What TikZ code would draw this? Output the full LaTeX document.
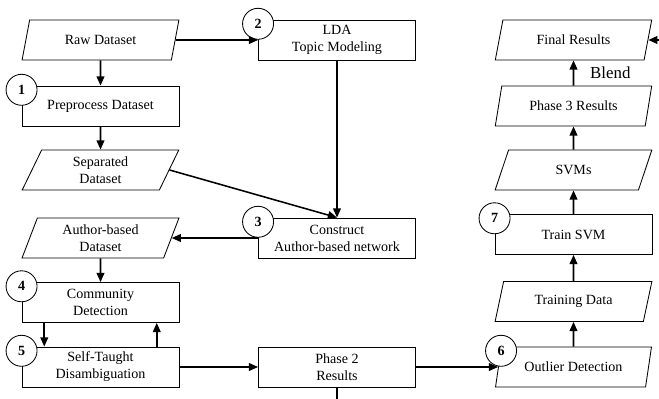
\documentclass[tikz,border=0pt]{standalone}
\usepackage{fontspec}
\setmainfont{Liberation Serif}
\usetikzlibrary{shapes.geometric,arrows.meta}

\begin{document}
\begin{tikzpicture}[x=0.025cm,y=-0.025cm,
		procbox/.style={draw,line width=0.6pt,minimum width=3.925cm,minimum height=1cm,align=center,inner sep=1pt},
		databox/.style={draw,line width=0.6pt,trapezium,trapezium left angle=72,trapezium right angle=108,trapezium stretches=true,minimum width=3.925cm,minimum height=1cm,align=center,inner sep=1pt},
		stepnum/.style={draw,circle,fill=white,line width=0.6pt,minimum size=0.775cm,inner sep=0pt,font=\bfseries},
		flow/.style={line width=1.1pt,-{Triangle[length=6.5pt,width=5.5pt]}}]
			\useasboundingbox (0,0) rectangle (659,399);
			% left column
			\node[databox] (RD) at (100.5,40) {Raw Dataset};
			\node[procbox] (PD) at (100.5,106) {Preprocess Dataset};
			\node[databox] (SD) at (100.5,170) {Separated\\Dataset};
			\node[databox] (AD) at (100.5,238) {Author-based\\Dataset};
			\node[procbox] (CD) at (100.5,302.5) {Community\\Detection};
			\node[procbox] (ST) at (100.5,367) {Self-Taught\\Disambiguation};
			% middle column
			\node[procbox] (LD) at (337,40) {LDA\\Topic Modeling};
			\node[procbox] (CA) at (337,238) {Construct\\Author-based network};
			\node[procbox] (PR) at (337,367) {Phase 2\\Results};
			% right column
			\node[databox] (FR) at (573.5,40) {Final Results};
			\node[databox] (PT) at (573.5,106) {Phase 3 Results};
			\node[databox] (SV) at (573.5,170) {SVMs};
			\node[procbox] (TS) at (573.5,234.5) {Train SVM};
			\node[databox] (TD) at (573.5,301.5) {Training Data};
			\node[databox] (OD) at (573.5,367) {Outlier Detection};
			% step numbers
			\node[stepnum] (C1) at ([yshift=-3]PD.north west) {1};
			\node[stepnum] (C2) at ([yshift=-3]LD.north west) {2};
			\node[stepnum] (C3) at ([yshift=-3]CA.north west) {3};
			\node[stepnum] (C4) at ([yshift=-3]CD.north west) {4};
			\node[stepnum] (C5) at ([yshift=-3]ST.north west) {5};
			\node[stepnum] (C6) at ([yshift=-3]OD.top left corner) {6};
			\node[stepnum] (C7) at ([yshift=-3]TS.north west) {7};
			% free ends at the border
			\coordinate (EF) at (659,40);
			\coordinate (EP) at (337,400);
			
			\draw[flow] (RD)--(PD);
			\draw[flow] (PD)--(SD);
			\draw[flow] (RD.east)--(LD.west);
			\draw[flow] (LD.south)--(CA.north);
			\draw[flow] (SD.east)--(CA.north);
			\draw[flow] (CA.west)--(AD.east);
			\draw[flow] (AD)--(CD);
			\draw[flow] ([xshift=-40]CD.south)--([xshift=-40]ST.north);
			\draw[flow] ([xshift=40]ST.north)--([xshift=40]CD.south);
			\draw[flow] (ST.east)--(PR.west);
			\draw[line width=1.1pt] (PR.south)--(EP);
			\draw[flow] (PR.east)--(OD.west);
			\draw[flow] (OD)--(TD);
			\draw[flow] (TD)--(TS);
			\draw[flow] (TS)--(SV);
			\draw[flow] (SV)--(PT);
			\draw[flow] (PT)--(FR) node[midway,right=8pt,font=\fontsize{12}{14}\selectfont] (BL) {Blend};
			\draw[flow] (EF)--(FR.east);
\end{tikzpicture}
\end{document}
